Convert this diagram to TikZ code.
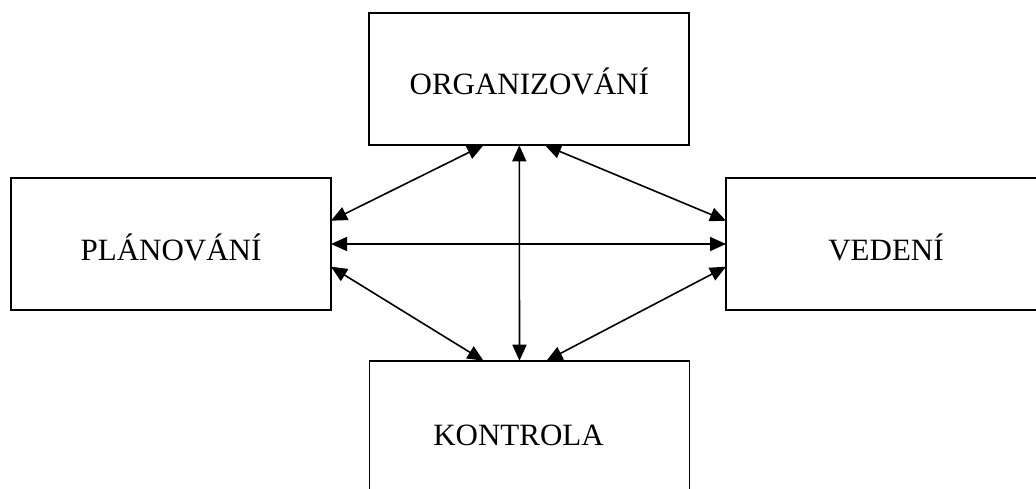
\documentclass[tikz,border=0pt]{standalone}
\usepackage{fontspec}
\setmainfont{Liberation Serif}
\usetikzlibrary{arrows.meta,calc}
\tikzset{
  box/.style={draw, line width=1.8pt, rectangle, outer sep=0pt, inner sep=0pt,
    minimum width=320pt, minimum height=132pt, text depth=0pt,
    font=\fontsize{31}{36}\selectfont},
  link/.style={line width=1.6pt, {Triangle[length=16pt,width=14pt]}-{Triangle[length=16pt,width=14pt]}}
}
\begin{document}
\begin{tikzpicture}[x=1pt,y=-1pt]
  \useasboundingbox (0,0) rectangle (1036,488);
  \clip (0,0) rectangle (1036,488);

  % the four management functions
  \node[box, text height=31pt] (org) at (529.3,79.3) {ORGANIZOVÁNÍ};
  \node[box, text height=32pt] (pla) at (171,244)    {PLÁNOVÁNÍ};
  \node[box, text height=32pt] (ved) at (886,244)    {VEDENÍ};
  \node[box, text height=36.6pt] (kon) at (529.5,426.7) {KONTROLA\hspace*{22pt}};

  % attachment points on the box edges
  \coordinate (orgA) at ($(org.south)+(-46,0)$);
  \coordinate (orgB) at ($(org.south)+(-10,0)$);
  \coordinate (orgC) at ($(org.south)+(15.7,0)$);
  \coordinate (konA) at ($(kon.north)+(-46,0)$);
  \coordinate (konB) at ($(kon.north)+(-10,0)$);
  \coordinate (konC) at ($(kon.north)+(17,0)$);
  \coordinate (plaA) at ($(pla.east)+(0,-23.3)$);
  \coordinate (plaC) at ($(pla.east)+(0,22.7)$);
  \coordinate (vedA) at ($(ved.west)+(0,-23.3)$);
  \coordinate (vedC) at ($(ved.west)+(0,22.7)$);

  % two-way links
  \draw[link] (orgA) -- (plaA);
  \draw[link] (orgC) -- (vedA);
  \draw[link] (pla.east) -- (ved.west);
  \draw[link] (orgB) -- (konB);
  \draw[link] (plaC) -- (konA);
  \draw[link] (vedC) -- (konC);
\end{tikzpicture}
\end{document}
